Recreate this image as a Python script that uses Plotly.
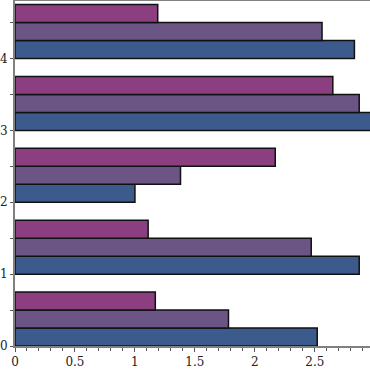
import plotly.graph_objects as go

categories = [0, 1, 2, 3, 4]
series_a = [2.52, 2.87, 1.00, 3.02, 2.83]   # blue (bottom bar)
series_b = [1.78, 2.47, 1.38, 2.87, 2.56]   # purple (middle bar)
series_c = [1.17, 1.11, 2.17, 2.65, 1.19]   # magenta (top bar)
x_ticks = [0, 0.5, 1, 1.5, 2, 2.5]
x_tick_labels = ["0", "0.5", "1", "1.5", "2", "2.5"]

colors = ["#3d5a8c", "#6a5585", "#8b3f81"]
series = [series_a, series_b, series_c]

fig = go.Figure()
for i, (vals, col) in enumerate(zip(series, colors)):
    fig.add_trace(go.Bar(
        x=vals, y=categories, orientation="h",
        width=0.25, offset=0.25 * i,
        marker=dict(color=col, line=dict(color="#111111", width=1.5)),
        showlegend=False,
    ))

font = dict(family="DejaVu Serif", size=12, color="#222222")
fig.update_layout(
    width=370, height=370,
    margin=dict(l=15, r=0, t=1, b=24),
    barmode="overlay",
    plot_bgcolor="white", paper_bgcolor="white",
    font=font,
    xaxis=dict(
        range=[0, 2.96], tickvals=x_ticks, ticktext=x_tick_labels,
        ticks="outside", ticklen=4, tickcolor="#555555", tickwidth=1,
        minor=dict(dtick=0.1, ticks="outside", ticklen=3, tickcolor="#555555"),
        showgrid=False, zeroline=False,
        showline=True, linecolor="#808080", linewidth=2, mirror=True,
        tickfont=font, automargin=False,
    ),
    yaxis=dict(
        range=[0, 4.8], tickvals=categories,
        ticks="outside", ticklen=3, tickcolor="#555555", tickwidth=1,
        minor=dict(dtick=0.5, ticks="outside", ticklen=3, tickcolor="#555555"),
        showgrid=False, zeroline=False,
        showline=True, linecolor="#808080", linewidth=2,
        tickfont=font, ticklabelstandoff=0, automargin=False,
    ),
)

fig.write_html("out.html", config={"displayModeBar": False},
               post_script="document.body.style.margin='0';")
